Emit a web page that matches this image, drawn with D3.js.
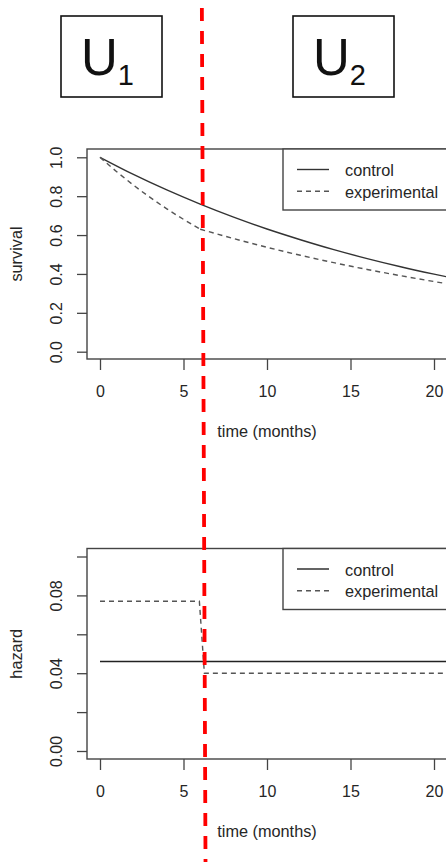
<!DOCTYPE html>
<html>
<head>
<meta charset="utf-8">
<script src="https://cdn.jsdelivr.net/npm/d3@7"></script>
<style>
  body { margin: 0; background: #fff; }
  svg { display: block; font-family: "Liberation Sans", Arial, sans-serif; }
</style>
</head>
<body>
<svg width="446" height="862"></svg>
<script>
// survival curves
const survTime = [0, 2, 4, 6, 8, 10, 12, 14, 16, 18, 20, 22];
const survControl = [1.0, 0.912, 0.832, 0.759, 0.692, 0.631, 0.576, 0.525, 0.479, 0.437, 0.399, 0.363];
const expTime = [0, 1, 2, 3, 4, 5, 6, 8, 10, 12, 14, 16, 18, 20, 22];
const survExp = [1.0, 0.926, 0.857, 0.794, 0.735, 0.681, 0.63, 0.582, 0.537, 0.496, 0.458, 0.423, 0.391, 0.361, 0.333];

// hazard functions
const hazTime = [0, 22];
const hazControl = [0.046, 0.046];
const hazExpTime = [0, 5.95, 6.25, 22];
const hazExp = [0.077, 0.077, 0.04, 0.04];

// tick labels
const xTicks = [0, 5, 10, 15, 20];
const survTicks = [0, 0.2, 0.4, 0.6, 0.8, 1.0];
const hazTicks = [0, 0.02, 0.04, 0.06, 0.08, 0.1];
const hazLabels = [0, 0.04, 0.08];
const legendText = ["control", "experimental"];
const changeTop = 6.1;     // red marker, top end
const changeBottom = 6.32; // red marker, bottom end

const svg = d3.select("svg");
const ink = "#262626";
const frame = "#444";

const x = d3.scaleLinear().domain([0, 20]).range([100, 434]);
const plotLeft = 87, plotRight = 470;

const drawPanel = (opts) => {
  const { top, bottom, y, yTicks, yFmt, yTitle, series } = opts;
  const g = svg.append("g");

  g.append("rect")
    .attr("x", plotLeft).attr("y", top)
    .attr("width", plotRight - plotLeft).attr("height", bottom - top)
    .attr("fill", "none").attr("stroke", frame).attr("stroke-width", 1.4);

  //y axis
  const yAxis = d3.axisLeft(y).tickValues(yTicks).tickSize(10).tickFormat(yFmt);
  const ya = g.append("g").attr("transform", `translate(${plotLeft},0)`).call(yAxis);
  ya.select(".domain").remove();
  ya.selectAll("line").attr("stroke", frame).attr("stroke-width", 1.3);
  ya.selectAll("text")
    .attr("x", 0).attr("y", -25).attr("dy", 0)
    .attr("transform", "rotate(-90)")
    .style("text-anchor", "middle")
    .attr("fill", ink).attr("font-size", 16);

  //x axis
  const xAxis = d3.axisBottom(x).tickValues(xTicks).tickSize(11);
  const xa = g.append("g").attr("transform", `translate(0,${bottom})`).call(xAxis);
  xa.select(".domain").remove();
  xa.selectAll("line").attr("stroke", frame).attr("stroke-width", 1.3);
  xa.selectAll("text").attr("y", 38).attr("dy", 0).attr("fill", ink).attr("font-size", 16);

  g.append("text")
    .attr("x", 267).attr("y", bottom + 78)
    .style("text-anchor", "middle")
    .attr("fill", ink).attr("font-size", 16.3)
    .text("time (months)");

  g.append("text")
    .attr("transform", `translate(22,${(top + bottom) / 2}) rotate(-90)`)
    .style("text-anchor", "middle")
    .attr("fill", ink).attr("font-size", 16.3)
    .text(yTitle);

  series.forEach((s) => {
    const line = d3.line().x((d) => x(d[0])).y((d) => y(d[1])).curve(s.curve);
    s.pieces.forEach((pts) => {
      g.append("path")
        .attr("d", line(pts))
        .attr("fill", "none")
        .attr("stroke", s.color)
        .attr("stroke-width", 1.4)
        .attr("stroke-dasharray", s.dash);
    });
  });

  //legend
  const lg = g.append("g");
  lg.append("rect")
    .attr("x", 283).attr("y", top)
    .attr("width", plotRight - 283).attr("height", 61)
    .attr("fill", "#fff").attr("stroke", frame).attr("stroke-width", 1.4);
  const item = lg.selectAll(".item").data(legendText).enter().append("g")
    .attr("transform", (d, i) => `translate(0,${top + 20.5 + i * 21.7})`);
  item.append("line")
    .attr("x1", 297).attr("x2", 329)
    .attr("stroke", (d, i) => series[i].color).attr("stroke-width", 1.4)
    .attr("stroke-dasharray", (d, i) => series[i].dash);
  item.append("text")
    .attr("x", 345).attr("y", 6.5)
    .attr("fill", ink).attr("font-size", 16.3)
    .text((d) => d);
};

const zip = (a, b) => a.map((v, i) => [v, b[i]]);

// survival panel
const ySurv = d3.scaleLinear().domain([0, 1]).range([351.7, 157.3]);
const expPts = zip(expTime, survExp);
drawPanel({
  top: 149, bottom: 359, y: ySurv,
  yTicks: survTicks, yFmt: d3.format(".1f"), yTitle: "survival",
  series: [
    { color: "#333", dash: null, curve: d3.curveMonotoneX, pieces: [zip(survTime, survControl)] },
    { color: "#555", dash: "5,4", curve: d3.curveMonotoneX,
      pieces: [expPts.filter((d) => d[0] <= 6), expPts.filter((d) => d[0] >= 6)] },
  ],
});

// hazard panel
const yHaz = d3.scaleLinear().domain([0, 0.1]).range([751, 556.5]);
drawPanel({
  top: 548.5, bottom: 759, y: yHaz,
  yTicks: hazTicks,
  yFmt: (d) => (hazLabels.some((v) => Math.abs(v - d) < 1e-9) ? d3.format(".2f")(d) : ""),
  yTitle: "hazard",
  series: [
    { color: "#222", dash: null, curve: d3.curveLinear, pieces: [zip(hazTime, hazControl)] },
    { color: "#555", dash: "5,4", curve: d3.curveLinear, pieces: [zip(hazExpTime, hazExp)] },
  ],
});

// U1 / U2 boxes
const boxes = [
  { x: 61, sub: "1" },
  { x: 293, sub: "2" },
];
const bx = svg.selectAll(".ubox").data(boxes).enter().append("g")
  .attr("transform", (d) => `translate(${d.x},16)`);
bx.append("rect")
  .attr("width", 101).attr("height", 81)
  .attr("fill", "#fff").attr("stroke", "#111").attr("stroke-width", 1.6);
const ut = bx.append("text").attr("x", 20).attr("y", 59).attr("fill", "#111");
ut.append("tspan").attr("font-size", 51).text("U");
ut.append("tspan").attr("font-size", 29).attr("dy", 10).text((d) => d.sub);

// red change-point marker
svg.append("line")
  .attr("x1", x(changeTop)).attr("y1", 8)
  .attr("x2", x(changeBottom)).attr("y2", 870)
  .attr("stroke", "#ff0000").attr("stroke-width", 3.8)
  .attr("stroke-dasharray", "13,10");
</script>
</body>
</html>
